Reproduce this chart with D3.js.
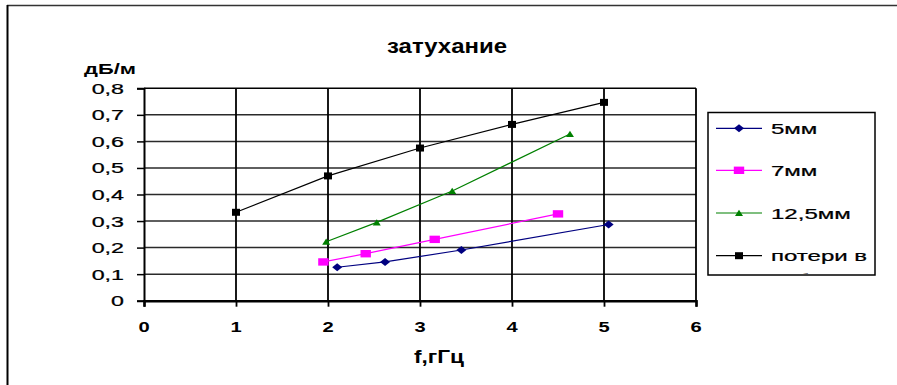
<!DOCTYPE html>
<html>
<head>
<meta charset="utf-8">
<script src="https://cdn.jsdelivr.net/npm/d3@7"></script>
<style>
  html, body { margin: 0; padding: 0; background: #fff; }
  svg { display: block; font-family: "Liberation Sans", Arial, sans-serif; }
</style>
</head>
<body>
<svg id="chart" width="897" height="385"></svg>
<script>
// ---- data ----
const chartTitle = "затухание";
const yAxisTitle = "дБ/м";
const xAxisTitle = "f,гГц";
const xTicks = [0, 1, 2, 3, 4, 5, 6];
const yTicks = [0, 0.1, 0.2, 0.3, 0.4, 0.5, 0.6, 0.7, 0.8];
const seriesNames = ["5мм", "7мм", "12,5мм", "потери в кабелей"];
const s5mm_x = [2.1, 2.62, 3.45, 5.05];
const s5mm_y = [0.126, 0.146, 0.191, 0.287];
const s7mm_x = [1.95, 2.41, 3.16, 4.5];
const s7mm_y = [0.146, 0.177, 0.231, 0.327];
const s125mm_x = [1.98, 2.53, 3.35, 4.63];
const s125mm_y = [0.222, 0.295, 0.413, 0.628];
const loss_x = [1, 2, 3, 4, 5];
const loss_y = [0.333, 0.47, 0.575, 0.664, 0.747];

const seriesData = [
  { name: seriesNames[0], xs: s5mm_x, ys: s5mm_y, color: "#000080", marker: "diamond" },
  { name: seriesNames[1], xs: s7mm_x, ys: s7mm_y, color: "#FF00FF", marker: "wsquare" },
  { name: seriesNames[2], xs: s125mm_x, ys: s125mm_y, color: "#008000", marker: "triangle" },
  { name: seriesNames[3], xs: loss_x, ys: loss_y, color: "#000000", marker: "square" }
];

const svg = d3.select("#chart");
const x = d3.scaleLinear().domain([0, 6]).range([144, 696]);
const y = d3.scaleLinear().domain([0, 0.8]).range([300.7, 88.3]);

function markerPath(type) {
  switch (type) {
    case "diamond": return "M-5,0L0,-4L5,0L0,4Z";
    case "wsquare": return "M-5.2,-3.7H5.2V3.7H-5.2Z";
    case "triangle": return "M-4,3L0,-3.2L4,3Z";
    default: return "M-4,-3.5H4V3.5H-4Z";
  }
}

// outer frame (partially visible)
svg.append("line").attr("x1", 7).attr("x2", 897).attr("y1", 5.5).attr("y2", 5.5)
  .attr("stroke", "#333").attr("stroke-width", 1.5);
svg.append("line").attr("x1", 7.5).attr("x2", 7.5).attr("y1", 5).attr("y2", 385)
  .attr("stroke", "#000").attr("stroke-width", 2);

// gridlines
const grid = svg.append("g");
grid.selectAll("line.h").data(yTicks.slice(1)).join("line")
  .attr("x1", x(0)).attr("x2", x(6))
  .attr("y1", d => y(d)).attr("y2", d => y(d))
  .attr("stroke", d => d === 0.8 ? "#000" : "#2a2a2a").attr("stroke-width", 1.5);
grid.selectAll("line.v").data(xTicks.slice(1)).join("line")
  .attr("x1", d => x(d)).attr("x2", d => x(d))
  .attr("y1", y(0.8)).attr("y2", y(0))
  .attr("stroke", "#000").attr("stroke-width", 1.8);

// axes
const yAxis = d3.axisLeft(y).tickValues(yTicks).tickSize(7).tickFormat(() => "");
const gy = svg.append("g").attr("transform", `translate(${x(0)},0)`).call(yAxis);
gy.select(".domain").attr("stroke", "#000").attr("stroke-width", 2);
gy.selectAll(".tick line").attr("stroke", "#000").attr("stroke-width", 1.5);

const xAxis = d3.axisBottom(x).tickValues(xTicks).tickSize(6).tickFormat(() => "");
const gx = svg.append("g").attr("transform", `translate(0,${y(0)})`).call(xAxis);
gx.select(".domain").attr("stroke", "#000").attr("stroke-width", 2.5);
gx.selectAll(".tick line").attr("stroke", "#000").attr("stroke-width", 1.8);

// y tick labels (stretched horizontally like the reference)
const fmtY = d => d3.format(".1f")(d).replace(".", ",");
svg.append("g").selectAll("text").data(yTicks).join("text")
  .attr("transform", d => `translate(124,${y(d) + 5.5}) scale(1.5,1)`)
  .attr("text-anchor", "end").attr("font-size", 15.5).attr("fill", "#000")
  .attr("stroke", "#000").attr("stroke-width", 0.25)
  .text(d => d === 0 ? "0" : fmtY(d));

// x tick labels
svg.append("g").selectAll("text").data(xTicks).join("text")
  .attr("transform", d => `translate(${x(d)},332) scale(1.3,1)`)
  .attr("text-anchor", "middle").attr("font-size", 15.5).attr("font-weight", "bold").attr("fill", "#000")
  .text(d => d);

// titles
svg.append("text").attr("x", 387).attr("y", 53).attr("font-size", 20).attr("font-weight", "bold")
  .attr("textLength", 120).attr("lengthAdjust", "spacingAndGlyphs").text(chartTitle);
svg.append("text").attr("x", 84).attr("y", 74).attr("font-size", 15.5).attr("font-weight", "bold")
  .attr("textLength", 52).attr("lengthAdjust", "spacingAndGlyphs").text(yAxisTitle);
svg.append("text").attr("x", 414).attr("y", 363).attr("font-size", 18).attr("font-weight", "bold")
  .attr("textLength", 50).attr("lengthAdjust", "spacingAndGlyphs").text(xAxisTitle);

// series
const line = d3.line().x(d => x(d[0])).y(d => y(d[1]));
const gs = svg.append("g");
seriesData.forEach(s => {
  const pts = s.xs.map((v, i) => [v, s.ys[i]]);
  gs.append("path").datum(pts).attr("d", line)
    .attr("fill", "none").attr("stroke", s.color).attr("stroke-width", 1.2);
  gs.selectAll(null).data(pts).join("path")
    .attr("d", markerPath(s.marker))
    .attr("transform", d => `translate(${x(d[0])},${y(d[1])})`)
    .attr("fill", s.color);
});

// legend
const lg = svg.append("g");
svg.append("defs").append("clipPath").attr("id", "legclip")
  .append("rect").attr("x", 708).attr("y", 112).attr("width", 167).attr("height", 162);
lg.append("rect").attr("x", 708).attr("y", 112.5).attr("width", 167).attr("height", 162.5)
  .attr("fill", "#fff").attr("stroke", "#000").attr("stroke-width", 1.5);
const lgItems = lg.append("g").attr("clip-path", "url(#legclip)");
const legY = [128.3, 170.3, 213, 255.7];
seriesData.forEach((s, i) => {
  const yy = legY[i];
  lgItems.append("line").attr("x1", 716).attr("x2", 762).attr("y1", yy).attr("y2", yy)
    .attr("stroke", s.color).attr("stroke-width", 1.2);
  lgItems.append("path").attr("d", markerPath(s.marker))
    .attr("transform", `translate(739,${yy})`).attr("fill", s.color);
  const words = s.name.split(" ");
  const lines = words.length > 2 ? [words.slice(0, 2).join(" "), words.slice(2).join(" ")] : [s.name];
  lines.forEach((t, j) => {
    lgItems.append("text")
      .attr("transform", `translate(771,${yy + 5.5 + j * 23.5}) scale(1.55,1)`)
      .attr("font-size", 15.5).attr("fill", "#000")
      .attr("stroke", "#000").attr("stroke-width", 0.25).text(t);
  });
});
</script>
</body>
</html>
